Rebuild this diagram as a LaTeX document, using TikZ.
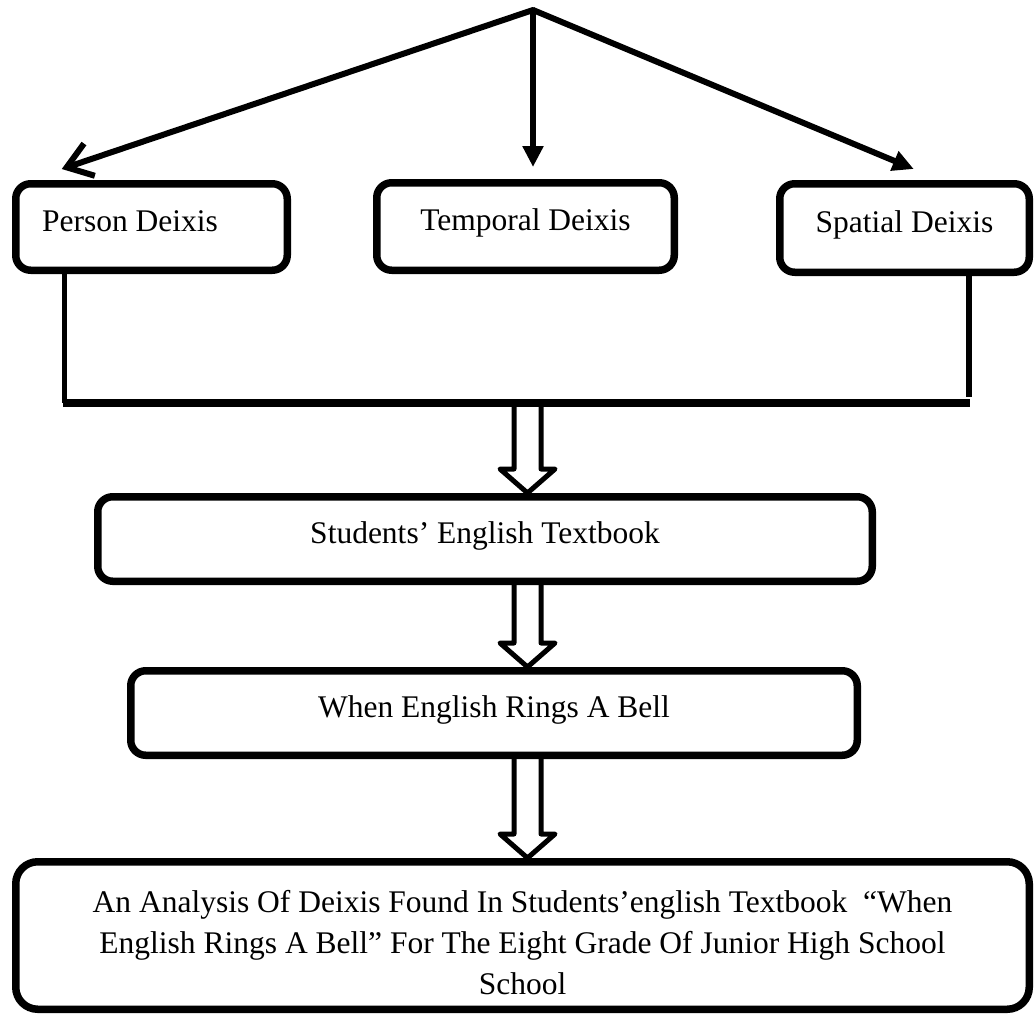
\documentclass[tikz,border=0pt]{standalone}
\usepackage{fontspec}
\setmainfont{Liberation Serif}
\usepackage{tikz}
\usetikzlibrary{arrows.meta, positioning, calc}
\tikzset{
  box/.style ={rectangle, rounded corners=15pt, draw, line width=7.5pt, inner sep=0pt, align=center, font=\fontsize{31.5}{41}\selectfont},
  one/.style ={text height=22pt, text depth=14pt},
  fl/.style  ={line width=6pt, -{Triangle[length=21pt, width=20pt]}},
  flb/.style ={line width=6pt, line cap=round, -{Straight Barb[length=24pt, width=34pt]}},
  ln/.style  ={line width=5.5pt},
  bar/.style ={line width=8pt},
  hol/.style ={line width=5pt, line join=round},
}
\newcommand{\hollowdown}[2]{%
  \draw[hol] let \p1=(#1), \p2=(#2) in
    (\x1-13.5pt,\y1) -- (\x1-13.5pt,\y2+24pt) -- (\x1-27.5pt,\y2+24pt) -- (\x1,\y2)
    -- (\x1+27.5pt,\y2+24pt) -- (\x1+13.5pt,\y2+24pt) -- (\x1+13.5pt,\y1);}

\begin{document}
\begin{tikzpicture}[x=1pt, y=-1pt]
  \useasboundingbox (0,0) rectangle (1035,1014);
  \node[box, one, minimum width=271.5pt, minimum height=86.5pt] (person) at (151.5,227) {Person Deixis\hspace*{43pt}};
  \node[box, one, minimum width=297.5pt, minimum height=87.5pt] (temporal) at (525.5,226.5) {Temporal Deixis};
  \node[box, one, minimum width=249.5pt, minimum height=88.5pt] (spatial) at (904.5,228) {Spatial Deixis};
  \node[box, one, minimum width=774.5pt, minimum height=84.5pt] (stud) at (485,539) {Students’ English Textbook};
  \node[box, one, minimum width=726.5pt, minimum height=84.5pt] (bell) at (494,713) {When English Rings A Bell};
  \node[box, rounded corners=22pt, minimum width=1013.5pt, minimum height=147.5pt] (title) at (522.5,935.5) {\rule{0pt}{36pt}An Analysis Of Deixis Found In Students’english Textbook~~“When\\ English Rings A Bell” For The Eight Grade Of Junior High School\\ School};

  \coordinate (apex) at (533,10);
  \draw[flb] (apex) -- ($(person.north west)+(49.75,-11)$);
  \draw[fl] (apex) -- ($(apex |- temporal.north)+(0,-12)$);
  \draw[fl] (apex) -- ($(spatial.north west)+(137.75,-11)$);

  \coordinate (jl) at (64.5,402.5);
  \coordinate (jr) at (969,402.5);
  \draw[ln] (jl |- person.south) -- (jl);
  \draw[ln] (jr |- spatial.south) -- ($(jr)+(0,-6)$);
  \draw[bar] ($(jl)+(-2,0)$) -- ($(jr)+(1,0)$);

  \coordinate (ax) at (527.5,0);
  \hollowdown{ax |- jl}{ax |- stud.north}
  \hollowdown{ax |- stud.south}{ax |- bell.north}
  \hollowdown{ax |- bell.south}{ax |- title.north}
\end{tikzpicture}
\end{document}
